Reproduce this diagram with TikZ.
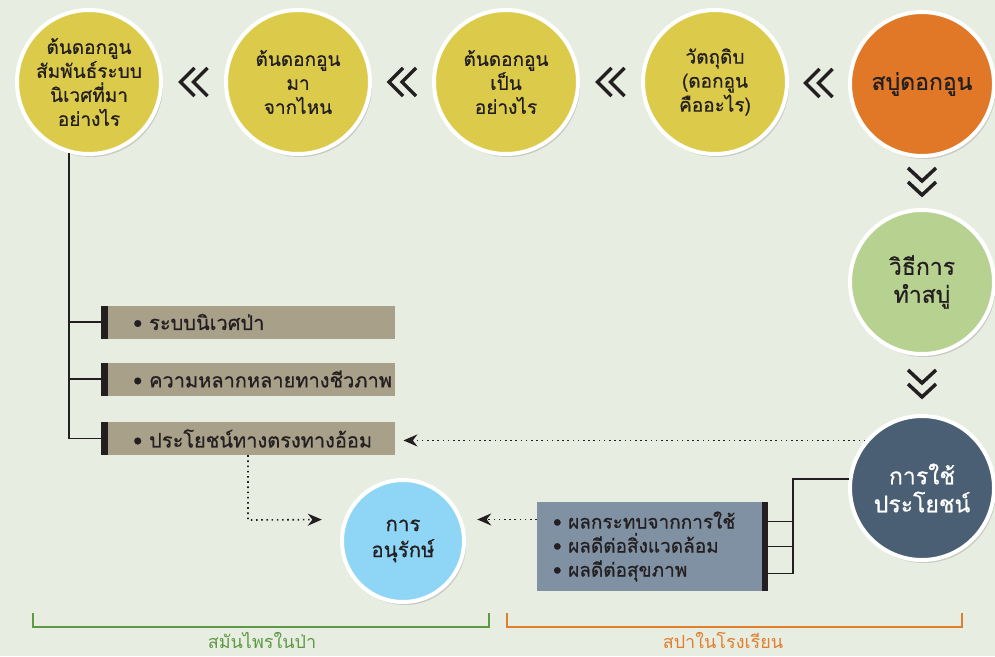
\documentclass[tikz,border=0pt]{standalone}
\usepackage{fontspec}
\setmainfont[Script=Thai,FakeBold=0.7]{Loma}
\newfontfamily\thinthai[Script=Thai]{Loma}
\usetikzlibrary{positioning,calc,shadows,arrows.meta}
\definecolor{bgc}{HTML}{E8EDE2}
\definecolor{ink}{HTML}{231F20}
\definecolor{yel}{HTML}{DCCB4B}
\definecolor{org}{HTML}{E07827}
\definecolor{lgrn}{HTML}{B7D191}
\definecolor{slt}{HTML}{4A5F74}
\definecolor{sky}{HTML}{8FD6F6}
\definecolor{tanc}{HTML}{A9A08A}
\definecolor{sltbox}{HTML}{7F91A3}
\definecolor{brgrn}{HTML}{5E9A46}
\definecolor{brorg}{HTML}{E07F2E}
\newcommand\lchev[1]{\draw[chev,shift={(#1)}] (1,-14) -- (-13,0) -- (1,14) (14,-14) -- (0,0) -- (14,14);}
\newcommand\dchev[1]{\draw[chev,shift={(#1)}] (-14,-15) -- (0,-2) -- (14,-15) (-14,-1) -- (0,12) -- (14,-1);}
\newcommand\tanitem[1]{\hspace*{16pt}\mbox{•~#1}}
\tikzset{
  bub/.style={circle,draw=white,line width=4pt,minimum size=144pt,inner sep=0pt,align=center,text=ink,
    font=\fontsize{19}{24}\selectfont,drop shadow={shadow xshift=2pt,shadow yshift=-3pt,opacity=.3}},
  bigbub/.style={bub,font=\fontsize{23}{28}\selectfont},
  chev/.style={draw=ink,line width=3.5pt,line join=miter},
  tanbox/.style={fill=tanc,anchor=west,minimum height=33pt,text width=262pt,inner xsep=16pt,inner ysep=0pt,
    align=left,text=ink,font=\fontsize{20}{22}\selectfont,
    path picture={\fill[ink] (path picture bounding box.north west) rectangle ([xshift=7pt]path picture bounding box.south west);}},
  slatebox/.style={fill=sltbox,minimum height=89pt,text width=199pt,inner xsep=16pt,inner ysep=0pt,
    align=left,text=ink,font=\fontsize{19}{24}\selectfont,
    path picture={\fill[ink] (path picture bounding box.north east) rectangle ([xshift=-6pt]path picture bounding box.south east);}},
  tree/.style={draw=ink,line width=1.8pt},
  dotarrow/.style={draw=ink,line width=1.6pt,dash pattern=on 1.6pt off 3.6pt,-{Stealth[length=14pt,width=12pt]}},
  brace/.style={line width=2.6pt},
  brlabel/.style={font=\thinthai\fontsize{18}{20}\selectfont,inner sep=0pt}
}
\begin{document}
\begin{tikzpicture}[x=1pt,y=-1pt]
\fill[bgc] (0,0) rectangle (995,656);
\useasboundingbox (0,0) rectangle (995,656);

\node[bub,fill=yel] (c1) at (89,82) {ต้นดอกอูน\\สัมพันธ์ระบบ\\นิเวศที่มา\\อย่างไร};
\node[bub,fill=yel] (c2) at (298,82) {ต้นดอกอูน\\มา\\จากไหน};
\node[bub,fill=yel] (c3) at (506,82) {ต้นดอกอูน\\เป็น\\อย่างไร};
\node[bub,fill=yel] (c4) at (715,82) {วัตถุดิบ\\(ดอกอูน\\คืออะไร)};
\node[bigbub,fill=org] (c5) at (922,84) {สบู่ดอกอูน};
\node[bigbub,fill=lgrn] (cm) at (922,282) {วิธีการ\\ทำสบู่};
\node[bigbub,fill=slt,text=white] (cb) at (922,488) {การใช้\\ประโยชน์};
\node[bub,fill=sky,minimum size=122pt,font=\fontsize{20.5}{26}\selectfont] (ccons) at (403,541) {การ\\อนุรักษ์};

\coordinate (m12) at ($(c1)!.5!(c2)$);
\coordinate (m23) at ($(c2)!.5!(c3)$);
\coordinate (m34) at ($(c3)!.5!(c4)$);
\coordinate (m45) at ($(c4)!.5!(c5)$);
\coordinate (m5m) at ($(c5)!.5!(cm)$);
\coordinate (mmb) at ($(cm)!.5!(cb)$);
\lchev{m12} \lchev{m23} \lchev{m34} \lchev{m45}
\dchev{m5m} \dchev{mmb}

\node[tanbox] (pb1) at (101,322) {\tanitem{ระบบนิเวศป่า}};
\node[tanbox] (pb2) at (101,379) {\tanitem{ความหลากหลายทางชีวภาพ}};
\node[tanbox] (pb3) at (101,438.5) {\tanitem{ประโยชน์ทางตรงทางอ้อม}};
\node[slatebox] (sbox) at (652.5,546.5) {•~ผลกระทบจากการใช้\\•~ผลดีต่อสิ่งแวดล้อม\\•~ผลดีต่อสุขภาพ};

\draw[tree] (c1.254) |- (pb3.west);
\draw[tree] (pb1.west) -- (pb1.west -| c1.254);
\draw[tree] (pb2.west) -- (pb2.west -| c1.254);

\coordinate (hub) at (793,573.5);
\draw[tree] (cb.173) -| (hub) -- (hub -| sbox.east);
\draw[tree] ([yshift=25pt]sbox.east) -- ([yshift=25pt]sbox.east -| hub);
\draw[tree] (sbox.east) -- (sbox.east -| hub);

\coordinate (turn) at (248,520);
\draw[dotarrow,shorten >=8pt] (cb.140) -- (cb.140 -| pb3.east);
\draw[dotarrow,shorten >=22pt] (pb3.south -| turn) -- (turn) -- (ccons.160);
\draw[dotarrow,shorten >=15pt] (ccons.20 -| sbox.west) -- (ccons.20);

\draw[brace,brgrn] (33,613) -- (33,627) -- (489,627) -- (489,613);
\draw[brace,brorg] (507,613) -- (507,627) -- (962,627) -- (962,613);
\node[brlabel,text=brgrn] (lforest) at (262,640) {สมันไพรในป่า};
\node[brlabel,text=brorg] (lschool) at (723,640) {สปาในโรงเรียน};
\end{tikzpicture}
\end{document}
